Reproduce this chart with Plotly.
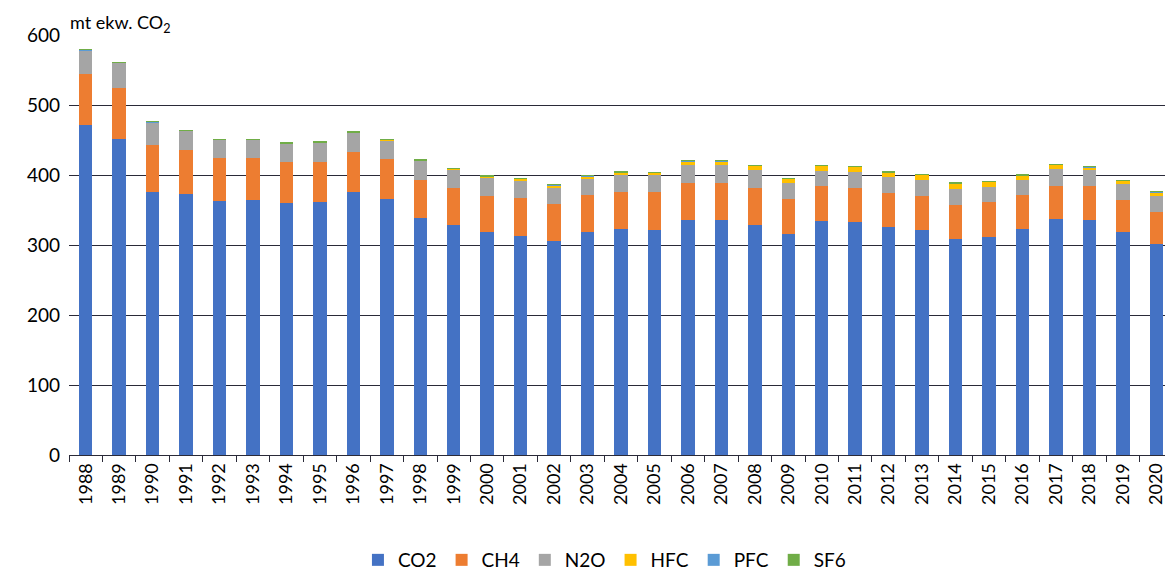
import plotly.graph_objects as go

years = [str(y) for y in range(1988, 2021)]

co2 = [471, 452, 376, 373, 363, 365, 360, 362, 376, 366, 339, 329, 319, 313, 306, 319, 323,
       322, 336, 336, 329, 316, 334, 333, 326, 322, 309, 312, 323, 337, 336, 319, 302]
ch4 = [74, 73, 67, 63, 62, 59, 59, 57, 57, 57, 54, 53, 51.5, 54, 52, 52, 53,
       54, 53, 52, 53, 50, 50.5, 49, 49, 48.5, 48.6, 49.6, 48.7, 48, 47.8, 44.8, 45]
n2o = [33, 35, 32, 27, 25, 26, 26, 27, 27, 26, 27, 26, 26, 25, 24, 24, 24.5,
       24, 26, 26, 25.6, 23, 21.5, 22.8, 22.6, 22.5, 23, 21.3, 21.8, 23.2, 23.8, 23, 22.5]
hfc = [0, 0, 0, 0, 0, 0, 0, 0.3, 0.5, 1, 0.5, 0.8, 1.5, 2.5, 3.5, 3.5, 3.3,
       3.3, 4.7, 5.7, 5.7, 5.7, 7, 7.2, 6.4, 7.5, 7.5, 7.2, 6.2, 6.3, 3.8, 4.7, 6.2]
pfc = [1.0, 1.0, 0.9, 0.8, 0.8, 0.8, 0.7, 0.6, 0.5, 0.5, 0.4, 0.4, 0.4, 0.3, 0.3, 0.3, 0.3,
       0.3, 0.3, 0.3, 0.3, 0.2, 0.2, 0.2, 0.2, 0.2, 0.2, 0.2, 0.2, 0.2, 0.2, 0.2, 0.2]
sf6 = [0.2, 0.2, 0.2, 0.3, 0.3, 0.4, 0.5, 0.7, 0.8, 0.9, 0.6, 0.6, 0.8, 0.6, 0.5, 0.6, 0.6,
       0.6, 0.6, 0.6, 0.6, 0.5, 0.6, 0.6, 0.6, 0.6, 0.5, 0.5, 0.5, 0.6, 0.6, 0.5, 0.5]

series = [
    ("CO2", co2, "#4472C4"),
    ("CH4", ch4, "#ED7D31"),
    ("N2O", n2o, "#A5A5A5"),
    ("HFC", hfc, "#FFC000"),
    ("PFC", pfc, "#5B9BD5"),
    ("SF6", sf6, "#70AD47"),
]

FONT = "Lato, 'Open Sans', sans-serif"

fig = go.Figure()
for name, vals, color in series:
    fig.add_trace(go.Bar(x=years, y=vals, name=name,
                         marker=dict(color=color, line=dict(width=0))))

# page body has an 8px default margin, so the figure is sized to fit the window
fig.update_layout(
    barmode="stack",
    bargap=0.6,
    width=1165, height=564,
    margin=dict(l=61, r=0, t=27, b=117, autoexpand=False),
    plot_bgcolor="white", paper_bgcolor="white",
    font=dict(family=FONT, size=19, color="#000000"),
    legend=dict(orientation="h", x=0.485, xanchor="center", y=-0.25, yanchor="middle",
                font=dict(size=19), itemwidth=30, traceorder="normal"),
    annotations=[dict(text="mt ekw. CO<sub>2</sub>", xref="paper", yref="paper",
                      x=0, y=1, xanchor="left", yanchor="bottom", showarrow=False,
                      font=dict(size=18), yshift=-2, borderpad=0)],
)
fig.update_yaxes(range=[0, 600], dtick=100, showgrid=True, gridcolor="#2a2a38",
                 gridwidth=1, zeroline=False, showline=False, ticks="",
                 tickfont=dict(size=19), ticklabelstandoff=8, automargin=False)
fig.update_xaxes(type="category", showline=True, linecolor="#2a2a38", linewidth=1,
                 ticks="outside", tickson="boundaries", ticklen=6, tickcolor="#2a2a38",
                 tickangle=-90, tickfont=dict(size=18), showgrid=False, automargin=False)

fig.write_html("out.html")
